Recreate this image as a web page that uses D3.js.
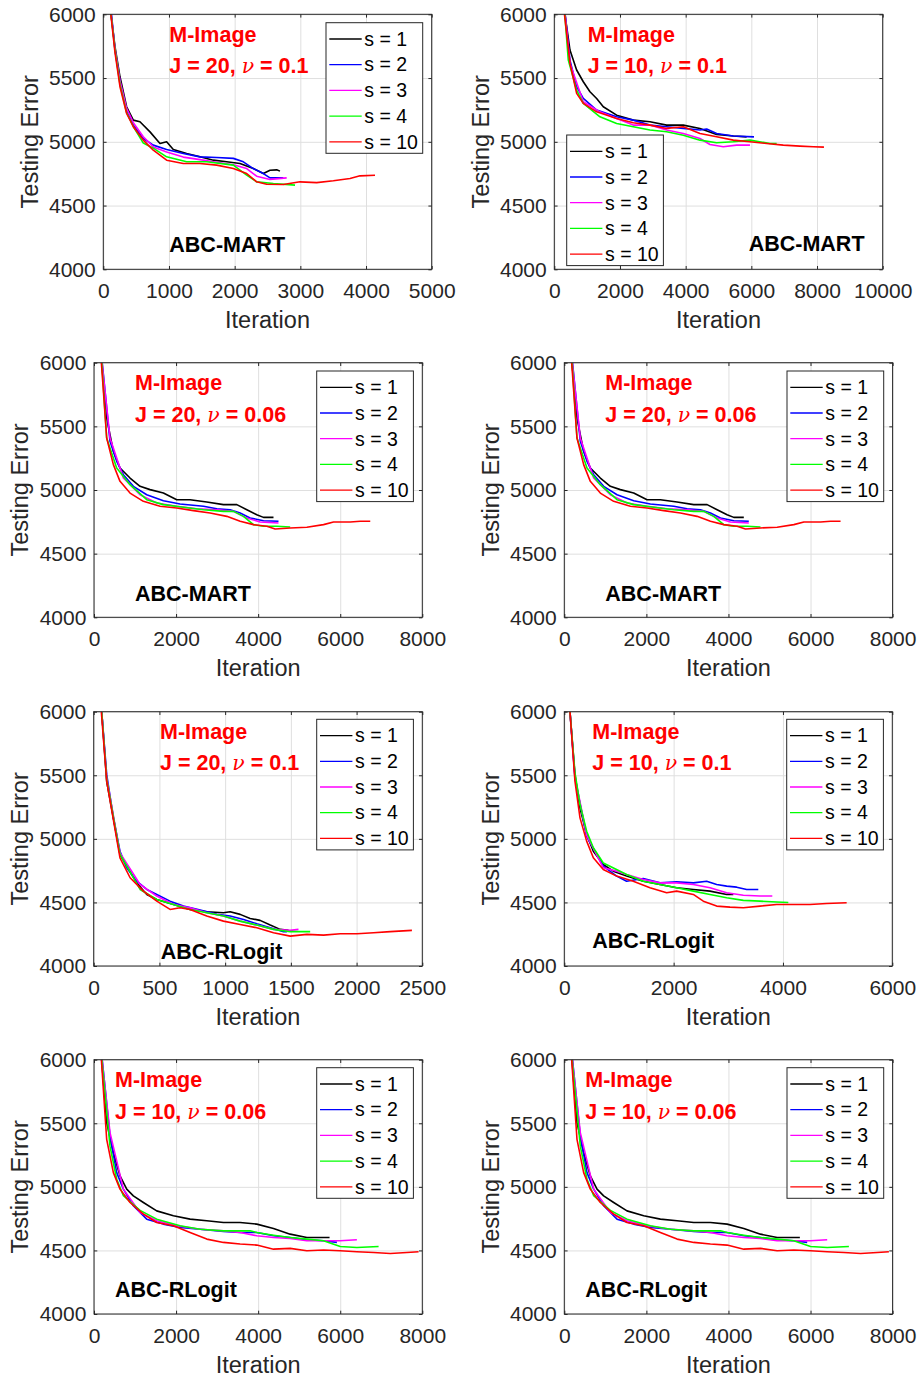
<!DOCTYPE html>
<html>
<head>
<meta charset="utf-8">
<script src="https://cdn.jsdelivr.net/npm/d3@7"></script>
<style>
  html, body { margin: 0; padding: 0; background: #fff; }
  svg { display: block; }
  text { font-family: "Liberation Sans", Arial, Helvetica, sans-serif; }
</style>
</head>
<body>
<svg id="chart" width="919" height="1378"></svg>
<script>
// ---------------- DATA ----------------
const seriesLabels = ["s = 1", "s = 2", "s = 3", "s = 4", "s = 10"];
const seriesColors = ["#000000", "#0000ff", "#ff00ff", "#00ff00", "#ff0000"];
const yTicks = [4000, 4500, 5000, 5500, 6000];
const datasetName = "M-Image";
const methodNames = ["ABC-MART", "ABC-MART", "ABC-MART", "ABC-MART", "ABC-RLogit", "ABC-RLogit", "ABC-RLogit", "ABC-RLogit"];
const paramJ = [20, 10, 20, 20, 20, 10, 10, 10];
const paramNu = ["0.1", "0.1", "0.06", "0.06", "0.1", "0.1", "0.06", "0.06"];
const xMaxes = [5000, 10000, 8000, 8000, 2500, 6000, 8000, 8000];
const xSteps = [1000, 2000, 2000, 2000, 500, 2000, 2000, 2000];

// Panel A: ABC-MART, J=20, nu=0.1
const martJ20n01_s1 = [[117,6000],[178,5746],[254,5510],[355,5275],[457,5170],[558,5157],[711,5078],[863,4987],[964,5000],[1066,4940],[1269,4908],[1472,4882],[1675,4856],[1878,4843],[2081,4830],[2284,4790],[2437,4751],[2538,4777],[2640,4780],[2690,4770]];
const martJ20n01_s2 = [[125,6000],[178,5720],[254,5471],[355,5249],[457,5131],[609,5026],[761,4974],[964,4940],[1218,4908],[1472,4882],[1726,4877],[1980,4870],[2132,4843],[2284,4790],[2437,4751],[2538,4717],[2741,4717]];
const martJ20n01_s3 = [[120,6000],[178,5730],[254,5480],[355,5262],[457,5150],[609,5040],[761,4960],[964,4920],[1218,4880],[1472,4860],[1726,4840],[1980,4820],[2183,4790],[2335,4730],[2538,4705],[2792,4717]];
const martJ20n01_s4 = [[118,6000],[178,5720],[254,5450],[355,5230],[457,5120],[609,4990],[761,4950],[964,4882],[1269,4843],[1574,4843],[1980,4817],[2183,4738],[2335,4686],[2589,4673],[2919,4660]];
const martJ20n01_s10 = [[115,6000],[178,5700],[254,5432],[355,5222],[457,5118],[609,5013],[761,4934],[964,4856],[1218,4830],[1472,4830],[1726,4817],[1980,4790],[2183,4751],[2335,4686],[2487,4667],[2741,4665],[2995,4686],[3249,4680],[3503,4694],[3756,4712],[3909,4733],[4137,4738]];

// Panel B: ABC-MART, J=10, nu=0.1
const martJ10n01_s1 = [[325,6000],[477,5720],[680,5563],[883,5471],[1086,5393],[1289,5340],[1492,5275],[1898,5209],[2406,5170],[2913,5157],[3421,5131],[3928,5131],[4436,5105],[4943,5058],[5451,5045],[5857,5039]];
const martJ10n01_s2 = [[330,6000],[477,5641],[680,5432],[883,5340],[1289,5249],[1898,5196],[2406,5170],[2913,5131],[3421,5118],[3928,5105],[4436,5092],[4640,5100],[4943,5065],[5451,5045],[6080,5039]];
const martJ10n01_s3 = [[330,6000],[477,5615],[883,5314],[1390,5235],[1898,5183],[2406,5131],[2913,5131],[3421,5092],[3928,5065],[4436,5026],[4740,4979],[5146,4961],[5552,4974],[5958,4974]];
const martJ10n01_s4 = [[320,6000],[426,5641],[680,5406],[883,5301],[1390,5196],[1898,5144],[2406,5118],[2913,5092],[3421,5079],[3928,5052],[4436,5013],[4943,4992],[5451,5000],[5958,5013],[6567,4987],[6770,4987]];
const martJ10n01_s10 = [[310,6000],[477,5615],[680,5380],[883,5301],[1289,5235],[1898,5183],[2406,5149],[2913,5131],[3421,5105],[3928,5118],[4436,5065],[4943,5039],[5451,5013],[5958,5000],[6466,4987],[6973,4974],[7480,4966],[7887,4961],[8211,4958]];

// Panel C: ABC-MART, J=20, nu=0.06
const martJ20n006_s1 = [[187,6000],[309,5565],[472,5304],[634,5173],[878,5094],[1122,5029],[1366,5003],[1691,4976],[2016,4924],[2341,4924],[2748,4906],[3154,4885],[3480,4885],[3724,4845],[3967,4806],[4130,4785],[4374,4785]];
const martJ20n006_s2 = [[200,6000],[390,5382],[553,5225],[716,5120],[960,5029],[1285,4963],[1691,4916],[2097,4890],[2667,4872],[2992,4853],[3317,4845],[3561,4819],[3805,4780],[4130,4759],[4496,4754]];
const martJ20n006_s3 = [[195,6000],[390,5408],[716,5094],[1122,4963],[1529,4898],[2016,4872],[2504,4853],[2992,4845],[3399,4832],[3724,4780],[4049,4749],[4496,4741]];
const martJ20n006_s4 = [[190,6000],[309,5408],[553,5173],[878,5042],[1285,4924],[1691,4885],[2179,4864],[2667,4845],[3154,4832],[3399,4832],[3642,4793],[3886,4728],[4130,4715],[4455,4715],[4780,4709]];
const martJ20n006_s10 = [[180,6000],[309,5408],[472,5199],[634,5068],[878,4976],[1203,4911],[1610,4872],[2016,4859],[2423,4838],[2830,4819],[3236,4793],[3561,4754],[3886,4728],[4211,4715],[4415,4694],[4780,4702],[5187,4707],[5593,4728],[5837,4749],[6244,4749],[6488,4754],[6732,4754]];

// Panel D: ABC-RLogit, J=20, nu=0.1
const rlogJ20n01_s1 = [[61,6000],[99,5450],[200,4877],[327,4654],[404,4563],[480,4523],[607,4484],[733,4445],[860,4427],[987,4419],[1038,4427],[1114,4406],[1190,4374],[1266,4359],[1343,4322],[1419,4288],[1482,4280]];
const rlogJ20n01_s2 = [[61,6000],[99,5505],[150,5165],[200,4903],[251,4772],[327,4667],[404,4602],[480,4563],[581,4510],[683,4471],[810,4440],[937,4406],[1038,4393],[1140,4366],[1241,4332],[1343,4301],[1444,4270],[1470,4270]];
const rlogJ20n01_s3 = [[61,6000],[99,5480],[200,4890],[353,4641],[480,4550],[607,4484],[733,4458],[860,4419],[987,4393],[1114,4353],[1241,4322],[1368,4288],[1495,4280],[1558,4288]];
const rlogJ20n01_s4 = [[61,6000],[99,5470],[200,4880],[353,4602],[480,4523],[607,4484],[733,4445],[860,4419],[987,4393],[1114,4353],[1241,4322],[1368,4288],[1495,4270],[1647,4270]];
const rlogJ20n01_s10 = [[58,6000],[99,5453],[200,4851],[277,4694],[378,4589],[480,4510],[581,4445],[657,4458],[733,4445],[860,4393],[987,4353],[1114,4327],[1241,4301],[1368,4262],[1495,4235],[1622,4249],[1749,4243],[1876,4254],[2003,4254],[2129,4262],[2256,4270],[2421,4280]];

// Panel E: ABC-RLogit, J=10, nu=0.1
const rlogJ10n01_s1 = [[104,6000],[195,5505],[287,5243],[409,5034],[531,4903],[713,4798],[896,4746],[1140,4707],[1445,4667],[1750,4641],[2055,4615],[2360,4602],[2665,4589],[2970,4563],[3092,4563]];
const rlogJ10n01_s2 = [[104,6000],[195,5480],[409,5020],[713,4785],[957,4707],[1140,4667],[1445,4688],[1750,4654],[2055,4662],[2360,4654],[2604,4667],[2787,4641],[2970,4628],[3153,4620],[3336,4602],[3549,4602]];
const rlogJ10n01_s3 = [[104,6000],[195,5490],[409,5030],[713,4772],[957,4746],[1140,4720],[1445,4681],[1750,4654],[2055,4654],[2360,4641],[2665,4615],[2970,4576],[3275,4557],[3580,4550],[3805,4550]];
const rlogJ10n01_s4 = [[104,6000],[195,5520],[287,5270],[409,5060],[531,4930],[713,4810],[835,4785],[1140,4720],[1445,4667],[1750,4641],[2055,4615],[2360,4589],[2665,4563],[2970,4537],[3275,4516],[3580,4510],[3884,4503],[4098,4500]];
const rlogJ10n01_s10 = [[104,6000],[195,5453],[287,5165],[409,4982],[531,4851],[713,4759],[957,4707],[1262,4667],[1567,4615],[1872,4576],[2055,4589],[2360,4563],[2543,4510],[2787,4471],[3031,4463],[3275,4458],[3580,4471],[3884,4484],[4189,4484],[4494,4484],[4799,4492],[5165,4497]];

// Panel F: ABC-RLogit, J=10, nu=0.06
const rlogJ10n006_s1 = [[187,6000],[309,5505],[472,5270],[634,5086],[797,4982],[959,4929],[1203,4877],[1528,4811],[1935,4772],[2341,4746],[2748,4733],[3154,4720],[3561,4720],[3967,4707],[4374,4673],[4780,4628],[5187,4602],[5740,4602]];
const rlogJ10n006_s2 = [[200,6000],[390,5400],[553,5112],[716,4982],[959,4851],[1285,4746],[1691,4707],[2098,4681],[2585,4667],[3154,4649],[3561,4641],[3967,4641],[4374,4615],[4780,4602],[5187,4584],[5593,4576],[5919,4563]];
const rlogJ10n006_s3 = [[195,6000],[390,5426],[716,4982],[1122,4798],[1528,4733],[2016,4694],[2585,4667],[3154,4654],[3561,4641],[3967,4615],[4374,4602],[4780,4594],[5187,4576],[5593,4576],[6000,4576],[6406,4584]];
const rlogJ10n006_s4 = [[190,6000],[390,5320],[553,5060],[716,4930],[1122,4815],[1528,4746],[2098,4694],[2585,4667],[3154,4654],[3805,4654],[3967,4641],[4374,4620],[4780,4602],[5187,4589],[5593,4576],[6000,4531],[6406,4523],[6935,4531]];
const rlogJ10n006_s10 = [[180,6000],[309,5374],[472,5112],[634,4982],[878,4877],[1203,4785],[1528,4720],[1935,4694],[2341,4641],[2748,4589],[3154,4563],[3561,4550],[3967,4542],[4374,4510],[4780,4516],[5187,4497],[5593,4503],[6000,4497],[6406,4490],[6813,4484],[7219,4476],[7626,4484],[7910,4490]];

const martJ20n01 = [martJ20n01_s1, martJ20n01_s2, martJ20n01_s3, martJ20n01_s4, martJ20n01_s10];
const martJ10n01 = [martJ10n01_s1, martJ10n01_s2, martJ10n01_s3, martJ10n01_s4, martJ10n01_s10];
const martJ20n006 = [martJ20n006_s1, martJ20n006_s2, martJ20n006_s3, martJ20n006_s4, martJ20n006_s10];
const rlogJ20n01 = [rlogJ20n01_s1, rlogJ20n01_s2, rlogJ20n01_s3, rlogJ20n01_s4, rlogJ20n01_s10];
const rlogJ10n01 = [rlogJ10n01_s1, rlogJ10n01_s2, rlogJ10n01_s3, rlogJ10n01_s4, rlogJ10n01_s10];
const rlogJ10n006 = [rlogJ10n006_s1, rlogJ10n006_s2, rlogJ10n006_s3, rlogJ10n006_s4, rlogJ10n006_s10];
const panelData = [martJ20n01, martJ10n01, martJ20n006, martJ20n006, rlogJ20n01, rlogJ10n01, rlogJ10n006, rlogJ10n006];

// ---------------- LAYOUT ----------------
const layout = [
  {l:103.3, t:14.3,   w:328.4, h:255,   lg:[326,22.7],    tx:169.3, tb:[41.7,73.3],     mx:169.3, mb:251.7},
  {l:554.3, t:14.3,   w:328.4, h:255,   lg:[566.7,135],   tx:587.7, tb:[41.7,73.3],     mx:748.7, mb:250.5},
  {l:94,    t:362.7,  w:328.3, h:254.6, lg:[316.7,371],   tx:135,   tb:[390,421.7],     mx:135,   mb:600.7},
  {l:564.3, t:362.7,  w:328.3, h:254.6, lg:[787,371],     tx:605.3, tb:[390,421.7],     mx:605.3, mb:600.7},
  {l:93.7,  t:711.7,  w:328.6, h:254.3, lg:[316.7,719.3], tx:160,   tb:[739.3,770],     mx:160.7, mb:959.3},
  {l:564.3, t:711.7,  w:328,   h:254.3, lg:[786.7,719.3], tx:592.3, tb:[739.3,770],     mx:592.3, mb:948.3},
  {l:94,    t:1059.7, w:328.3, h:254.3, lg:[316.7,1067.7],tx:115,   tb:[1086.7,1119],   mx:115,   mb:1296.7},
  {l:564.3, t:1059.7, w:328.3, h:254.3, lg:[787,1067.7],  tx:585.3, tb:[1086.7,1119],   mx:585.3, mb:1296.7}
];

const axisColor = "#262626";
const gridColor = "#dfdfdf";
const tickFont = 21;
const labelFont = 23.5;
const legendFont = 19.5;
const annotFont = 21.5;

const svg = d3.select("#chart");
svg.append("rect").attr("width", 919).attr("height", 1378).attr("fill", "#fff");

layout.forEach((L, pi) => {
  const x = d3.scaleLinear().domain([0, xMaxes[pi]]).range([0, L.w]);
  const y = d3.scaleLinear().domain([4000, 6000]).range([L.h, 0]);
  const xTicks = d3.range(0, xMaxes[pi] + 1, xSteps[pi]);
  const g = svg.append("g").attr("transform", `translate(${L.l},${L.t})`);

  // grid
  g.append("g").attr("transform", `translate(0,${L.h})`)
    .call(d3.axisBottom(x).tickValues(xTicks).tickSize(-L.h).tickFormat(""))
    .call(s => s.select(".domain").remove())
    .call(s => s.selectAll("line").attr("stroke", gridColor).attr("stroke-width", 1));
  g.append("g")
    .call(d3.axisLeft(y).tickValues(yTicks).tickSize(-L.w).tickFormat(""))
    .call(s => s.select(".domain").remove())
    .call(s => s.selectAll("line").attr("stroke", gridColor).attr("stroke-width", 1));

  // curves
  const clipId = "clip" + pi;
  g.append("clipPath").attr("id", clipId).append("rect").attr("width", L.w).attr("height", L.h);
  const line = d3.line().x(d => x(d[0])).y(d => y(d[1]));
  const cg = g.append("g").attr("clip-path", `url(#${clipId})`);
  panelData[pi].forEach((ser, si) => {
    cg.append("path").datum(ser).attr("d", line)
      .attr("fill", "none").attr("stroke", seriesColors[si])
      .attr("stroke-width", 1.6).attr("stroke-linejoin", "round");
  });

  // axes (ticks inside, labeled bottom/left)
  const styleAxis = s => {
    s.select(".domain").remove();
    s.selectAll("line").attr("stroke", axisColor).attr("stroke-width", 1);
    s.selectAll("text").attr("fill", axisColor).attr("font-size", tickFont)
      .attr("font-family", '"Liberation Sans", Arial, sans-serif');
  };
  g.append("g").attr("transform", `translate(0,${L.h})`)
    .call(d3.axisBottom(x).tickValues(xTicks).tickSize(-3.3).tickPadding(14).tickFormat(d3.format("d")))
    .call(styleAxis);
  g.append("g")
    .call(d3.axisTop(x).tickValues(xTicks).tickSize(-3.3).tickFormat(""))
    .call(styleAxis);
  g.append("g")
    .call(d3.axisLeft(y).tickValues(yTicks).tickSize(-3.3).tickPadding(7.6).tickFormat(d3.format("d")))
    .call(styleAxis);
  g.append("g").attr("transform", `translate(${L.w},0)`)
    .call(d3.axisRight(y).tickValues(yTicks).tickSize(-3.3).tickFormat(""))
    .call(styleAxis);
  g.append("rect").attr("width", L.w).attr("height", L.h)
    .attr("fill", "none").attr("stroke", axisColor).attr("stroke-width", 1);

  // axis labels
  g.append("text").attr("x", L.w / 2).attr("y", L.h + 59)
    .attr("text-anchor", "middle").attr("font-size", labelFont).attr("fill", axisColor)
    .text("Iteration");
  g.append("text").attr("transform", `translate(${-65.8},${L.h / 2}) rotate(-90)`)
    .attr("text-anchor", "middle").attr("font-size", labelFont).attr("fill", axisColor)
    .text("Testing Error");

  // annotations
  svg.append("text").attr("x", L.tx).attr("y", L.tb[0])
    .attr("font-size", annotFont).attr("font-weight", "bold").attr("fill", "#ff0000")
    .text(datasetName);
  const pt = svg.append("text").attr("x", L.tx).attr("y", L.tb[1])
    .attr("font-size", annotFont).attr("font-weight", "bold").attr("fill", "#ff0000");
  pt.append("tspan").text(`J = ${paramJ[pi]}, `);
  pt.append("tspan").attr("font-family", '"DejaVu Serif", "Liberation Serif", serif')
    .attr("font-style", "italic").attr("font-weight", "normal").attr("font-size", annotFont - 1).text("\u03BD");
  pt.append("tspan").text(` = ${paramNu[pi]}`);
  svg.append("text").attr("x", L.mx).attr("y", L.mb)
    .attr("font-size", annotFont).attr("font-weight", "bold").attr("fill", "#000")
    .text(methodNames[pi]);

  // legend
  const lg = svg.append("g").attr("transform", `translate(${L.lg[0]},${L.lg[1]})`);
  lg.append("rect").attr("width", 96.7).attr("height", 130.6)
    .attr("fill", "#fff").attr("stroke", axisColor).attr("stroke-width", 1);
  seriesLabels.forEach((lab, si) => {
    const yy = 16.3 + si * 25.7;
    lg.append("line").attr("x1", 3.3).attr("x2", 35.7).attr("y1", yy).attr("y2", yy)
      .attr("stroke", seriesColors[si]).attr("stroke-width", 1.3);
    lg.append("text").attr("x", 38.3).attr("y", yy + 6.8)
      .attr("font-size", legendFont).attr("fill", "#000").text(lab);
  });
});
</script>
</body>
</html>
